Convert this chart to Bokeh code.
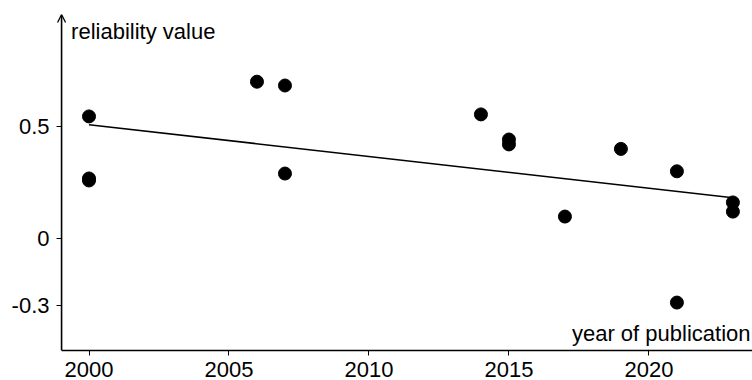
import numpy as np
from bokeh.plotting import figure
from bokeh.models import FixedTicker, Label, Arrow, OpenHead, Range1d
from bokeh.embed import file_html
from bokeh.resources import INLINE

# data
year = [2000, 2000, 2000, 2006, 2007, 2007, 2014, 2015, 2015, 2017, 2019, 2021, 2021, 2023, 2023]
reliability = [0.545, 0.268, 0.259, 0.70, 0.683, 0.29, 0.554, 0.442, 0.42, 0.098, 0.40, 0.30, -0.286, 0.161, 0.12]

x_ticks = [2000, 2005, 2010, 2015, 2020]
y_ticks = [-0.3, 0, 0.5]
y_tick_labels = ["-0.3", "0", "0.5"]

x_title = "year of publication"
y_title = "reliability value"

# least-squares trend line over the data span
slope, intercept = np.polyfit(year, reliability, 1)
trend_x = [min(year), max(year)]
trend_y = [intercept + slope * v for v in trend_x]

FONT = "Liberation Sans"
FS = "22px"
X0, X1 = 1998.839, 2023.70   # frame extent
AX = 1999.02                  # where the visible y axis line sits
Y0, Y1 = -0.5, 1.0

p = figure(width=752, height=380, output_backend="svg", toolbar_location=None,
           x_range=Range1d(X0, X1), y_range=Range1d(Y0, Y1),
           min_border_left=56, min_border_right=0, min_border_top=14, min_border_bottom=30)
p.outline_line_color = None
p.grid.visible = False
p.background_fill_color = "white"
p.border_fill_color = "white"

p.line(trend_x, trend_y, line_color="black", line_width=1.6)
p.scatter(year, reliability, size=13, color="black")

for ax in (p.xaxis[0], p.yaxis[0]):
    ax.axis_line_width = 1.6
    ax.axis_line_color = "black"
    ax.major_tick_line_color = "black"
    ax.major_tick_line_width = 1
    ax.minor_tick_line_color = None
    ax.major_label_text_font = FONT
    ax.major_label_text_font_size = FS
    ax.major_label_text_color = "black"
    ax.major_label_text_line_height = 0.9

xa = p.xaxis[0]
xa.ticker = FixedTicker(ticks=x_ticks)
xa.major_tick_out = 5
xa.major_tick_in = 0
xa.major_label_standoff = 6
xa.bounds = (AX, X1)

ya = p.yaxis[0]
ya.ticker = FixedTicker(ticks=y_ticks)
ya.major_label_overrides = dict(zip(y_ticks, y_tick_labels))
ya.axis_line_color = None
ya.major_tick_out = 0
ya.major_tick_in = 5
ya.major_label_standoff = 7

# visible y axis line with its arrow head
p.add_layout(Arrow(end=OpenHead(size=8, line_width=1.3, line_color="black"),
                   x_start=AX, y_start=Y0, x_end=AX, y_end=Y1,
                   line_width=1.6, line_color="black"))

p.add_layout(Label(x=1999.36, y=0.924, text=y_title, text_font=FONT,
                   text_font_size=FS, text_color="black",
                   text_align="left", text_baseline="alphabetic"))
p.add_layout(Label(x=X1, y=-0.424, x_offset=-2, text=x_title, text_font=FONT,
                   text_font_size=FS, text_color="black",
                   text_align="right", text_baseline="alphabetic"))

open("out.html", "w").write(file_html(p, INLINE))
